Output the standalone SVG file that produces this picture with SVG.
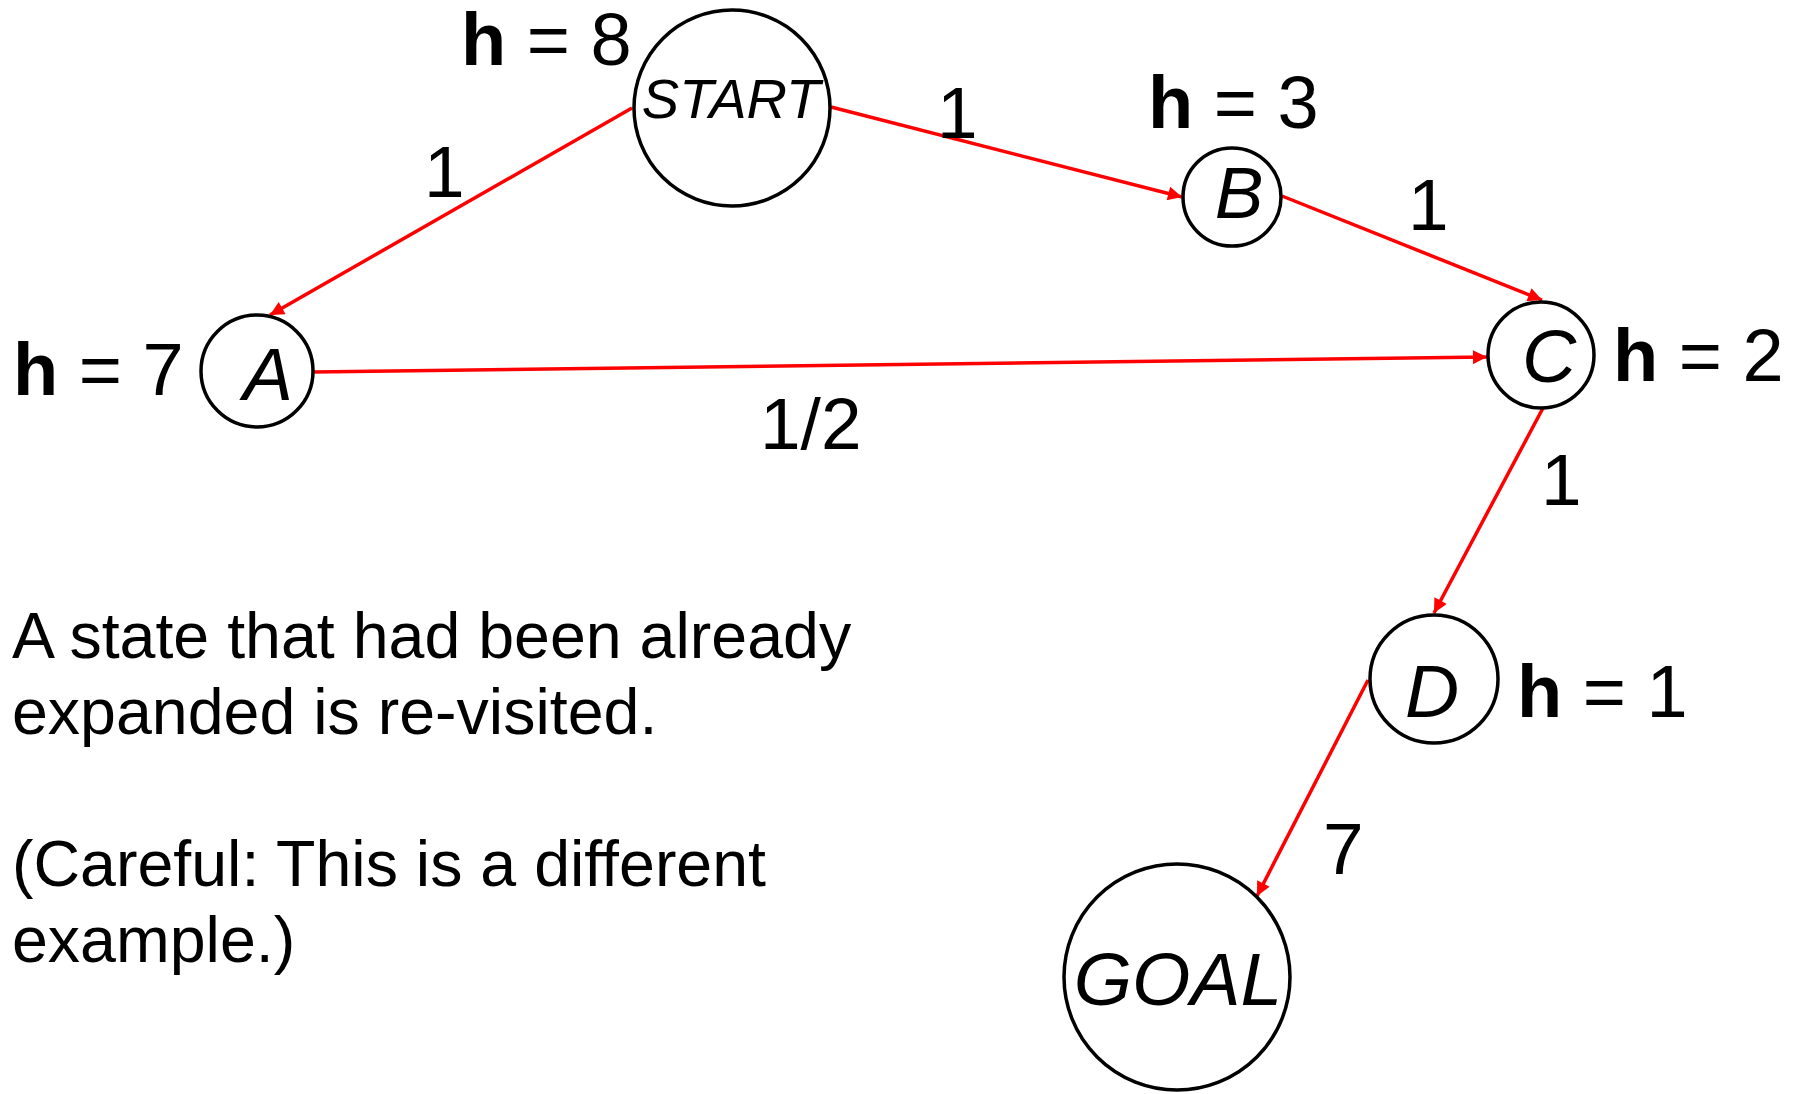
<svg xmlns="http://www.w3.org/2000/svg" width="1803" height="1094" viewBox="0 0 1803 1094">
<style>
.node{fill:#fff;stroke:#000;stroke-width:3.5}
.nl{font-family:"Liberation Sans",Arial,sans-serif;font-style:italic;text-anchor:middle;fill:#000}
.hl{font-family:"Liberation Sans",Arial,sans-serif;font-size:74px;fill:#000}
.hl .b{font-weight:bold}
.el{font-family:"Liberation Sans",Arial,sans-serif;font-size:73px;fill:#000}
.edge{stroke:#ff0000;stroke-width:3.5;fill:none;marker-end:url(#arr)}
.para{font-family:"Liberation Sans",Arial,sans-serif;font-size:64.5px;fill:#000}
</style>
<defs>
<marker id="arr" viewBox="0 0 10 10" refX="10" refY="5" markerWidth="5" markerHeight="4" markerUnits="strokeWidth" orient="auto">
<path d="M0,0 L10,5 L0,10 z" fill="#ff0000"/>
</marker>
</defs>
<rect width="1803" height="1094" fill="#fff"/>
<g id="connectors">
<line class="edge" x1="632" y1="108" x2="270" y2="315"/>
<line class="edge" x1="831" y1="107" x2="1182" y2="197"/>
<line class="edge" x1="1282" y1="196" x2="1542" y2="300"/>
<line class="edge" x1="313" y1="372" x2="1487" y2="357"/>
<line class="edge" x1="1543" y1="408" x2="1434" y2="613"/>
<line class="edge" x1="1368" y1="680" x2="1257" y2="896"/>
<text class="el" x="424" y="197">1</text>
<text class="el" x="937" y="138">1</text>
<text class="el" x="1408" y="230">1</text>
<text class="el" x="760" y="449">1/2</text>
<text class="el" x="1541" y="505">1</text>
<text class="el" x="1323" y="874">7</text>
</g>
<g id="start">
<circle class="node" cx="732" cy="108" r="98"/>
<text class="nl" x="731" y="118" font-size="56">START</text>
<text class="hl" x="461" y="65"><tspan class="b">h</tspan> = 8</text>
</g>
<g id="b">
<circle class="node" cx="1232" cy="197" r="49"/>
<text class="nl" x="1239" y="218" font-size="73">B</text>
<text class="hl" x="1148" y="128"><tspan class="b">h</tspan> = 3</text>
</g>
<g id="a">
<circle class="node" cx="257" cy="371" r="56"/>
<text class="nl" x="268" y="400" font-size="75">A</text>
<text class="hl" x="13" y="395"><tspan class="b">h</tspan> = 7</text>
</g>
<g id="c">
<circle class="node" cx="1541" cy="355" r="53"/>
<text class="nl" x="1549" y="382" font-size="75">C</text>
<text class="hl" x="1613" y="381"><tspan class="b">h</tspan> = 2</text>
</g>
<g id="d">
<circle class="node" cx="1434" cy="679" r="64"/>
<text class="nl" x="1432" y="717" font-size="75">D</text>
<text class="hl" x="1517" y="717"><tspan class="b">h</tspan> = 1</text>
</g>
<g id="goal">
<circle class="node" cx="1177" cy="977" r="113"/>
<text class="nl" x="1178" y="1005" font-size="75">GOAL</text>
</g>
<g id="note">
<text class="para" x="12" y="658">A state that had been already</text>
<text class="para" x="12" y="734">expanded is re-visited.</text>
<text class="para" x="12" y="886">(Careful: This is a different</text>
<text class="para" x="12" y="962">example.)</text>
</g>
</svg>
